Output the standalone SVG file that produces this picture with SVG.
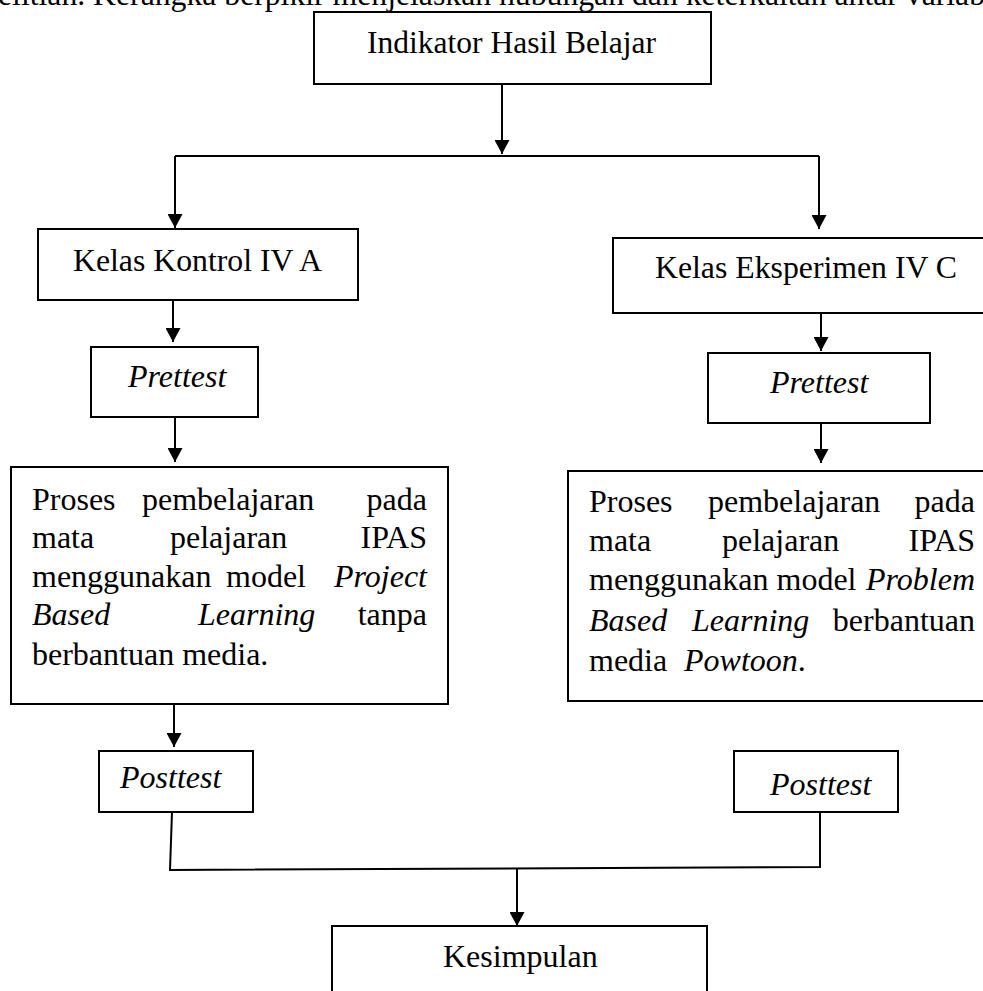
<svg xmlns="http://www.w3.org/2000/svg" width="983" height="991" viewBox="0 0 983 991">
<style>
  .box { fill: #fff; stroke: #000; stroke-width: 2; }
  .ln { fill: none; stroke: #000; stroke-width: 2; }
  .t { font-family: "Liberation Serif", "Times New Roman", serif; font-size: 32px; fill: #000; }
  .i { font-style: italic; }
  .e { text-anchor: end; }
</style>
<defs>
  <marker id="ah" markerUnits="userSpaceOnUse" viewBox="0 0 14 15" refX="14" refY="7.5" markerWidth="14" markerHeight="15" orient="auto">
    <path d="M0,0 L14,7.5 L0,15 z" fill="#000"/>
  </marker>
</defs>
<rect width="983" height="991" fill="#fff"/>

<text class="t" x="-2" y="5" textLength="987" lengthAdjust="spacingAndGlyphs">elitian. Kerangka berpikir menjelaskan hubungan dan keterkaitan antar variab</text>

<g id="connectors">
  <path class="ln" d="M502,84 L502,154" marker-end="url(#ah)"/>
  <path class="ln" d="M175,156 L819,156"/>
  <path class="ln" d="M175,156 L175,228" marker-end="url(#ah)"/>
  <path class="ln" d="M819,156 L819,229" marker-end="url(#ah)"/>
  <path class="ln" d="M173,300 L173,342" marker-end="url(#ah)"/>
  <path class="ln" d="M821,313 L821,351" marker-end="url(#ah)"/>
  <path class="ln" d="M175,417 L175,462" marker-end="url(#ah)"/>
  <path class="ln" d="M821,423 L821,463" marker-end="url(#ah)"/>
  <path class="ln" d="M174,704 L174,747" marker-end="url(#ah)"/>
  <path class="ln" d="M172,812 L170,870 L820,867 L820,812"/>
  <path class="ln" d="M517,869 L517,926" marker-end="url(#ah)"/>
</g>

<g id="indikator">
  <rect class="box" x="314" y="12" width="397" height="72"/>
  <text class="t" x="367" y="53" textLength="289" lengthAdjust="spacingAndGlyphs">Indikator Hasil Belajar</text>
</g>

<g id="kontrol">
  <rect class="box" x="38" y="229" width="320" height="71"/>
  <text class="t" x="73" y="271" textLength="249" lengthAdjust="spacingAndGlyphs">Kelas Kontrol IV A</text>
</g>

<g id="eksperimen">
  <rect class="box" x="613" y="238" width="377" height="75"/>
  <text class="t" x="655" y="278" textLength="302" lengthAdjust="spacingAndGlyphs">Kelas Eksperimen IV C</text>
</g>

<g id="prettest-kontrol">
  <rect class="box" x="91" y="347" width="167" height="70"/>
  <text class="t i" x="128" y="387">Prettest</text>
</g>

<g id="prettest-eksperimen">
  <rect class="box" x="708" y="353" width="222" height="70"/>
  <text class="t i" x="770" y="393">Prettest</text>
</g>

<g id="proses-kontrol">
  <rect class="box" x="11" y="467" width="437" height="237"/>
  <text class="t" x="32" y="510">Proses</text>
  <text class="t" x="142" y="510">pembelajaran</text>
  <text class="t e" x="427" y="510">pada</text>
  <text class="t" x="32" y="548">mata</text>
  <text class="t" x="170" y="548">pelajaran</text>
  <text class="t e" x="427" y="548">IPAS</text>
  <text class="t" x="32" y="587">menggunakan</text>
  <text class="t" x="226" y="587">model</text>
  <text class="t i e" x="427" y="587">Project</text>
  <text class="t i" x="32" y="625">Based</text>
  <text class="t i" x="198" y="625">Learning</text>
  <text class="t e" x="427" y="625">tanpa</text>
  <text class="t" x="32" y="665">berbantuan media.</text>
</g>

<g id="proses-eksperimen">
  <rect class="box" x="568" y="471" width="422" height="230"/>
  <text class="t" x="589" y="512">Proses</text>
  <text class="t" x="708" y="512">pembelajaran</text>
  <text class="t e" x="975" y="512">pada</text>
  <text class="t" x="589" y="551">mata</text>
  <text class="t" x="722" y="551">pelajaran</text>
  <text class="t e" x="975" y="551">IPAS</text>
  <text class="t" x="589" y="590">menggunakan model</text>
  <text class="t i e" x="975" y="590">Problem</text>
  <text class="t i" x="589" y="631">Based</text>
  <text class="t i" x="692" y="631">Learning</text>
  <text class="t e" x="975" y="631">berbantuan</text>
  <text class="t" x="589" y="671">media</text>
  <text class="t" x="684" y="671"><tspan class="i">Powtoon</tspan>.</text>
</g>

<g id="posttest-kontrol">
  <rect class="box" x="99" y="751" width="154" height="61"/>
  <text class="t i" x="120" y="788">Posttest</text>
</g>

<g id="posttest-eksperimen">
  <rect class="box" x="734" y="751" width="164" height="61"/>
  <text class="t i" x="770" y="795">Posttest</text>
</g>

<g id="kesimpulan">
  <rect class="box" x="332" y="926" width="375" height="80"/>
  <text class="t" x="443" y="967">Kesimpulan</text>
</g>
</svg>
